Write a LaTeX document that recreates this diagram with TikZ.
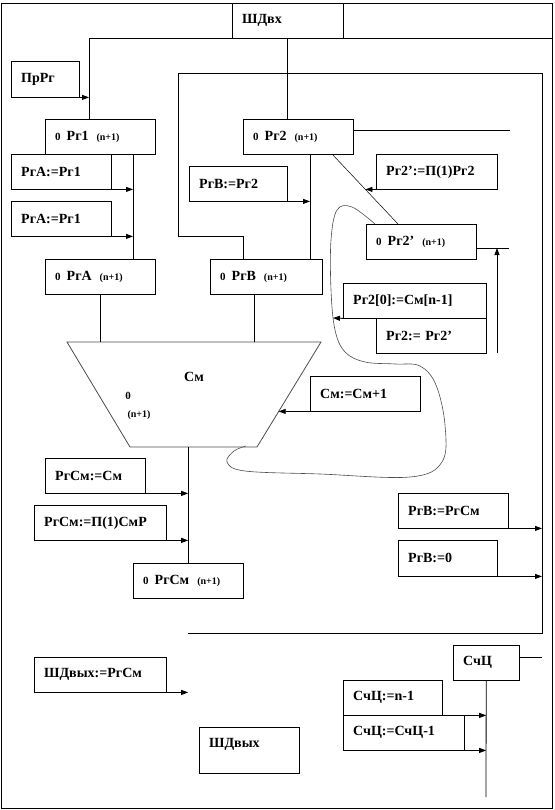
\documentclass[tikz,border=0pt]{standalone}
\usepackage{fontspec}
\setmainfont{Liberation Serif}
\usetikzlibrary{arrows.meta}
\def\regtxt#1{{\fontsize{11}{12}\selectfont 0}\hspace{6pt}#1\hspace{8pt}{\fontsize{10}{12}\selectfont (n+1)}}
\tikzset{
	blk/.style={draw, rectangle, anchor=north west, minimum height=35pt, inner xsep=10pt, inner ysep=0pt, align=left, font=\bfseries\fontsize{14}{16}\selectfont},
	wire/.style={line width=0.8pt},
	feed/.style={wire, -{Triangle[length=7pt,width=5pt]}},
}

\begin{document}
\begin{tikzpicture}[x=1pt, y=-1pt]
		%%%%% FRAME %%%%%
		\useasboundingbox (0,0) rectangle (554,810);
		\node[draw, line width=0.8pt, anchor=north west, minimum width=551pt, minimum height=805pt, inner sep=0pt] (frame) at (1,3) {};
		
		\node[blk, text width=91pt] (shdin) at (232,3) {ШДвх};
		\node[blk, text width=48pt, minimum height=36pt] (prrg) at (11,61) {ПрРг};
		
		%%%%% REGISTERS %%%%%
		\node[blk, text width=90pt] (r1) at (45,119) {\regtxt{Рг1}};
		\node[blk, text width=90pt] (r2) at (243,119) {\regtxt{Рг2}};
		\node[blk, text width=80pt] (a1) at (11,154) {РгА:=Рг1};
		\node[blk, text width=80pt] (a2) at (11,201) {РгА:=Рг1};
		\node[blk, text width=78pt] (b2) at (189,166) {РгВ:=Рг2};
		\node[blk, text width=101pt] (sh) at (376,154) {Рг2':=П(1)Рг2};
		\node[blk, text width=90pt] (r2p) at (366,224) {\regtxt{Рг2'}};
		\node[blk, text width=90pt] (ra) at (45,259) {\regtxt{РгА}};
		\node[blk, text width=92pt] (rb) at (210,259) {\regtxt{РгВ}};
		\node[blk, text width=123pt] (lsb) at (343,283) {Рг2[0]:=См[n-1]};
		\node[blk, text width=90pt] (cp) at (376,318) {Рг2:= Рг2'};
		\node[blk, text width=90pt] (inc) at (310,376) {См:=См+1};
		
		%%%%% ADDER %%%%%
		\coordinate (sm1) at (67,342);
		\coordinate (sm2) at (321,342);
		\coordinate (sm3) at (257,447);
		\coordinate (sm4) at (130,447);
		\draw[wire, color=black!70] (sm1) -- (sm2) -- (sm3) -- (sm4) -- cycle;
		\node[font=\bfseries\fontsize{14}{16}\selectfont] (smlbl) at (194,377) {См};
		\node[font=\bfseries\fontsize{11}{12}\selectfont] (sm0) at (128,396) {0};
		\node[font=\bfseries\fontsize{10}{12}\selectfont] (smn) at (139,415) {(n+1)};
		
		\node[blk, text width=80pt] (s1) at (45,458) {РгСм:=См};
		\node[blk, text width=112pt] (s2) at (34,505) {РгСм:=П(1)СмР};
		\node[blk, text width=90pt] (rs) at (133,563) {\regtxt{РгСм}};
		\node[blk, text width=90pt] (bs) at (398,493) {РгВ:=РгСм};
		\node[blk, text width=79pt, minimum height=36pt] (b0) at (398,540) {РгВ:=0};
		
		\node[blk, text width=112pt] (out) at (34,657) {ШДвых:=РгСм};
		\node[blk, text width=80pt, minimum height=46pt, text depth=14pt] (shdout) at (199,727) {ШДвых};
		\node[blk, text width=46pt] (cnt) at (453,645) {СчЦ};
		\node[blk, text width=79pt] (c1) at (343,680) {СчЦ:=n-1};
		\node[blk, text width=101pt] (c2) at (343,715) {СчЦ:=СчЦ-1};
		
		%%%%% WIRES %%%%%
		\coordinate (in1) at (89,38);
		\coordinate (in2) at (287,38);
		\coordinate (bus1) at (133,154);
		\coordinate (bus2) at (310,154);
		\coordinate (bus3) at (254,294);
		\coordinate (lp1) at (178,73);
		\coordinate (lp2) at (542,73);
		\coordinate (lp3) at (542,633);
		\coordinate (lp4) at (188,633);
		\coordinate (lp5) at (243,236);
		\coordinate (r2out) at (510,130);
		\coordinate (r2pout) at (509,248);
		\coordinate (upb) at (497,353);
		\coordinate (dg1) at (332,154);
		\coordinate (dg2) at (398,224);
		\coordinate (cvhit) at (333,318);
		\coordinate (cntout) at (542,657);
		\coordinate (cntend) at (486,797);
		
		\draw[wire] (in1) -- (in1 -| frame.east);
		\draw[wire] (in1) -- (in1 |- r1.north);
		\draw[wire] (in2) -- (in2 |- r2.north);
		\draw[feed] (prrg.south east) -- (prrg.south east -| in1);
		
		\draw[wire] (bus1) -- (bus1 |- ra.north);
		\draw[feed] (a1.south east) -- (a1.south east -| bus1);
		\draw[feed] (a2.south east) -- (a2.south east -| bus1);
		
		\draw[wire] (bus2) -- (bus2 |- rb.north);
		\draw[feed] (b2.south east) -- (b2.south east -| bus2);
		\draw[wire] (lp4) -- (lp3) -- (lp2) -- (lp1) |- (lp5) -- (lp5 |- rb.north);
		
		\draw[wire] (r2out -| r2.east) -- (r2out);
		\draw[line width=0.5pt] (dg1) -- (dg2);
		\draw[feed] (sh.south west) -- (intersection of sh.south west--sh.south east and dg1--dg2);
		\draw[wire] (r2pout -| r2p.east) -- (r2pout);
		\draw[feed] (upb) -- (upb |- r2pout);
		
		\draw[line width=0.6pt, color=black!70] plot[smooth, tension=0.6] coordinates {(375,224) (352,207) (337,210) (331,240) (331,290) (335,330) (345,352) (365,362) (395,364) (420,366) (436,385) (445,425) (442,462) (410,477) (320,474) (245,471) (227,462) (234,451) (246,446)};
		\draw[feed] (lsb.south west) -- (cvhit);
		
		\draw[wire] (ra.south) -- (ra.south |- sm1);
		\draw[wire] (bus3) -- (bus3 |- sm1);
		\draw[feed] (inc.south west) -- (intersection of inc.south west--inc.south east and sm2--sm3);
		
		\draw[wire] (rs.north) -- (rs.north |- sm4);
		\draw[feed] (s1.south east) -- (s1.south east -| rs.north);
		\draw[feed] (s2.south east) -- (s2.south east -| rs.north);
		\draw[feed] (out.south east) -- (out.south east -| rs.north);
		
		\draw[feed] (bs.south east) -- (bs.south east -| lp3);
		\draw[feed] (b0.south east) -- (b0.south east -| lp3);
		
		\draw[wire] (cntout -| cnt.east) -- (cntout);
		\draw[wire] (cnt.south) -- (cntend);
		\draw[feed] (c1.south east) -- (c1.south east -| cnt.south);
		\draw[feed] (c2.south east) -- (c2.south east -| cnt.south);
\end{tikzpicture}
\end{document}
